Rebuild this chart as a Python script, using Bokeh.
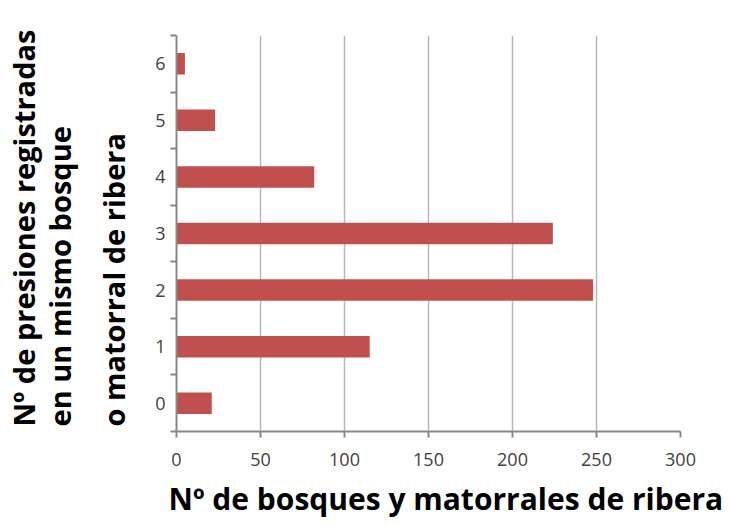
import math
from bokeh.plotting import figure
from bokeh.models import FixedTicker, Range1d, Title
from bokeh.embed import file_html
from bokeh.resources import INLINE

categories = [0, 1, 2, 3, 4, 5, 6]
values = [21, 115, 248, 224, 82, 23, 5]
x_ticks = [0, 50, 100, 150, 200, 250, 300]
y_title_lines = ["Nº de presiones registradas", "en un mismo bosque", "o matorral de ribera"]
x_title = "Nº de bosques y matorrales de ribera"

FONT = "Open Sans"

p = figure(width=729, height=525, output_backend="svg", toolbar_location=None,
           x_range=Range1d(0, 300), y_range=Range1d(-0.5, 6.5),
           min_border_left=176, min_border_right=49, min_border_top=35, min_border_bottom=93)
p.outline_line_color = None
p.background_fill_color = "white"

p.hbar(y=categories, left=0, right=values, height=0.38, fill_color="#C0504D", line_color=None)

# x axis
p.xaxis.ticker = FixedTicker(ticks=x_ticks)
p.xaxis.axis_line_color = "#888888"
p.xaxis.axis_line_width = 2
p.xaxis.major_tick_line_color = "#888888"
p.xaxis.major_tick_line_width = 2
p.xaxis.major_tick_out = 6
p.xaxis.major_tick_in = 0
p.xaxis.minor_tick_line_color = None
p.xaxis.major_label_standoff = 15
p.xaxis.major_label_text_font = FONT
p.xaxis.major_label_text_font_size = "18px"
p.xaxis.major_label_text_color = "#404040"

# y axis
p.yaxis.ticker = FixedTicker(ticks=categories, minor_ticks=[c - 0.5 for c in categories] + [6.5])
p.yaxis.axis_line_color = "#888888"
p.yaxis.axis_line_width = 2
p.yaxis.major_tick_line_color = None
p.yaxis.minor_tick_line_color = "#888888"
p.yaxis.minor_tick_line_width = 2
p.yaxis.minor_tick_out = 6
p.yaxis.minor_tick_in = 0
p.yaxis.major_label_standoff = 5
p.yaxis.major_label_text_font = FONT
p.yaxis.major_label_text_font_size = "18px"
p.yaxis.major_label_text_color = "#404040"

p.xgrid.ticker = FixedTicker(ticks=x_ticks)
p.xgrid.grid_line_color = "#b8b8b8"
p.xgrid.grid_line_width = 1.5
p.ygrid.grid_line_color = None

def mk_title(text, standoff, align, offset, size):
    return Title(text=text, align=align, offset=offset, standoff=standoff,
                 text_font=FONT, text_font_size=size, text_font_style="bold",
                 text_color="black")

# y title lines: closest to the axis first
standoffs = [3, -14, 40]
for t, s in reversed(list(zip(y_title_lines, standoffs))):
    p.add_layout(mk_title(t, s, "left", 5, "29px"), "left")

p.add_layout(mk_title(x_title, 14, "left", -8, "30px"), "below")

open("out.html", "w").write(file_html(p, INLINE))
